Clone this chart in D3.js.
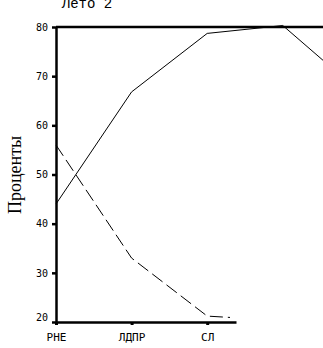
<!DOCTYPE html>
<html>
<head>
<meta charset="utf-8">
<script src="https://cdn.jsdelivr.net/npm/d3@7"></script>
<style>
body { margin: 0; background: #fff; }
</style>
</head>
<body>
<div id="chart"></div>
<script>
// parties (last two are off the visible area)
let categories = ["РНЕ", "ЛДПР", "СЛ", "", ""];
let solidValues = [44, 66.8, 78.7, 80.3, 67];
let dashedValues = [56, 33, 21.2, 20.3];
let yTicks = [20, 30, 40, 50, 60, 70, 80];
let titleText = "Лето 2";
let yLabel = "Проценты";

function main(){
    let width = 323, height = 348;

    let svg = d3.select("#chart").append("svg")
        .attr("width", width)
        .attr("height", height);

    let xScale = d3.scaleLinear().domain([0, 1]).range([56, 131.6]);
    let yScale = d3.scaleLinear().domain([20, 80]).range([322, 27]);

    // title, its top is cut by the window like in the original
    svg.append("text")
        .attr("x", 87)
        .attr("y", 8)
        .attr("text-anchor", "middle")
        .attr("font-family", "Liberation Mono, monospace")
        .attr("font-size", 14)
        .text(titleText);

    // y label
    svg.append("text")
        .attr("transform", "translate(21, 175) rotate(-90)")
        .attr("text-anchor", "middle")
        .attr("font-family", "Liberation Serif, serif")
        .attr("font-size", 18)
        .text(yLabel);

    // line across the top at 80
    svg.append("line")
        .attr("x1", 56).attr("x2", width)
        .attr("y1", yScale(80)).attr("y2", yScale(80))
        .attr("stroke", "black")
        .attr("stroke-width", 2.5);

    // Y axis
    let yAxis = svg.append("g")
        .attr("transform", "translate(56, 0)")
        .call(d3.axisLeft(yScale).tickValues(yTicks).tickSize(4).tickSizeOuter(0).tickPadding(4));
    yAxis.select(".domain").attr("stroke-width", 2.5);
    yAxis.selectAll(".tick line").attr("stroke-width", 2.5);
    yAxis.selectAll(".tick text")
        .attr("font-family", "DejaVu Sans Mono, monospace")
        .attr("font-size", 10)
        .attr("dy", d => d === 20 ? "-0.2em" : "0.32em");

    // X axis, ends before the 4th category
    let xAxisScale = xScale.copy().domain([0, (236 - 56) / 75.6]).range([56, 236]);
    let xAxis = svg.append("g")
        .attr("transform", "translate(0, 322)")
        .call(d3.axisBottom(xAxisScale).tickValues([0, 1, 2])
            .tickFormat(i => categories[i]).tickSize(3).tickSizeOuter(0).tickPadding(8));
    xAxis.select(".domain").attr("stroke-width", 2.5);
    xAxis.selectAll(".tick line").attr("stroke-width", 3);
    xAxis.selectAll(".tick text")
        .attr("font-family", "DejaVu Sans Mono, monospace")
        .attr("font-size", 11);

    let line = d3.line()
        .x((d, i) => xScale(i))
        .y(d => yScale(d));

    svg.append("path")
        .attr("d", line(solidValues))
        .attr("fill", "none")
        .attr("stroke", "black")
        .attr("stroke-width", 1);

    svg.append("clipPath").attr("id", "clipDash")
        .append("rect")
        .attr("x", 0).attr("y", 0)
        .attr("width", 230).attr("height", height);

    svg.append("path")
        .attr("d", line(dashedValues))
        .attr("clip-path", "url(#clipDash)")
        .attr("fill", "none")
        .attr("stroke", "black")
        .attr("stroke-width", 1)
        .attr("stroke-dasharray", "13,5");
}

main();
</script>
</body>
</html>
